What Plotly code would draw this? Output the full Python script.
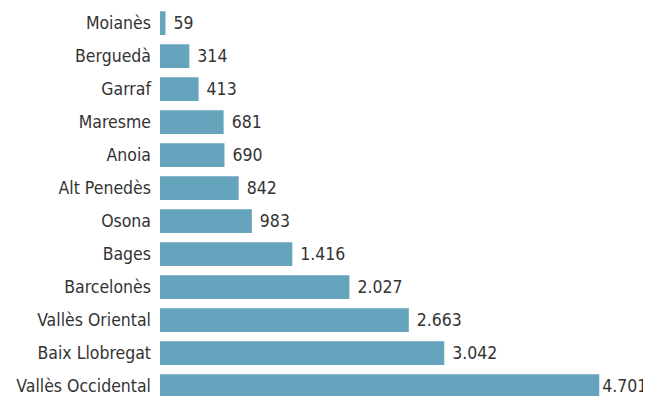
import plotly.graph_objects as go

comarques = ["Moianès", "Berguedà", "Garraf", "Maresme", "Anoia", "Alt Penedès",
             "Osona", "Bages", "Barcelonès", "Vallès Oriental", "Baix Llobregat",
             "Vallès Occidental"]
valors = [59, 314, 413, 681, 690, 842, 983, 1416, 2027, 2663, 3042, 4701]

bar_color = "#66a3bd"
text_color = "#333333"
font_family = "DejaVu Sans Condensed, Roboto, sans-serif"

# last label sits at the right edge, so it gets a tighter gap
templates = [" %{x:,}"] * (len(valors) - 1) + ["%{x:,}"]

fig = go.Figure(go.Bar(
    x=valors,
    y=comarques,
    orientation="h",
    marker=dict(color=bar_color, line=dict(width=0)),
    width=0.72,
    text=valors,
    texttemplate=templates,
    textposition="outside",
    textfont=dict(size=17.5, color=text_color, family=font_family),
    cliponaxis=False,
))

fig.update_layout(
    width=643, height=388,
    margin=dict(l=152, r=0, t=0, b=0),
    paper_bgcolor="white",
    plot_bgcolor="white",
    separators=",.",
    showlegend=False,
    font=dict(family=font_family, size=17.5, color=text_color),
    xaxis=dict(range=[0, 5255], visible=False, showgrid=False, zeroline=False),
    yaxis=dict(
        categoryorder="array", categoryarray=comarques,
        range=[11.3, -0.46],
        showgrid=False, zeroline=False, showline=False,
        ticks="", ticklabelstandoff=8,
        tickfont=dict(size=17.5, color=text_color, family=font_family),
        automargin=False,
    ),
)

fig.write_html("out.html")
